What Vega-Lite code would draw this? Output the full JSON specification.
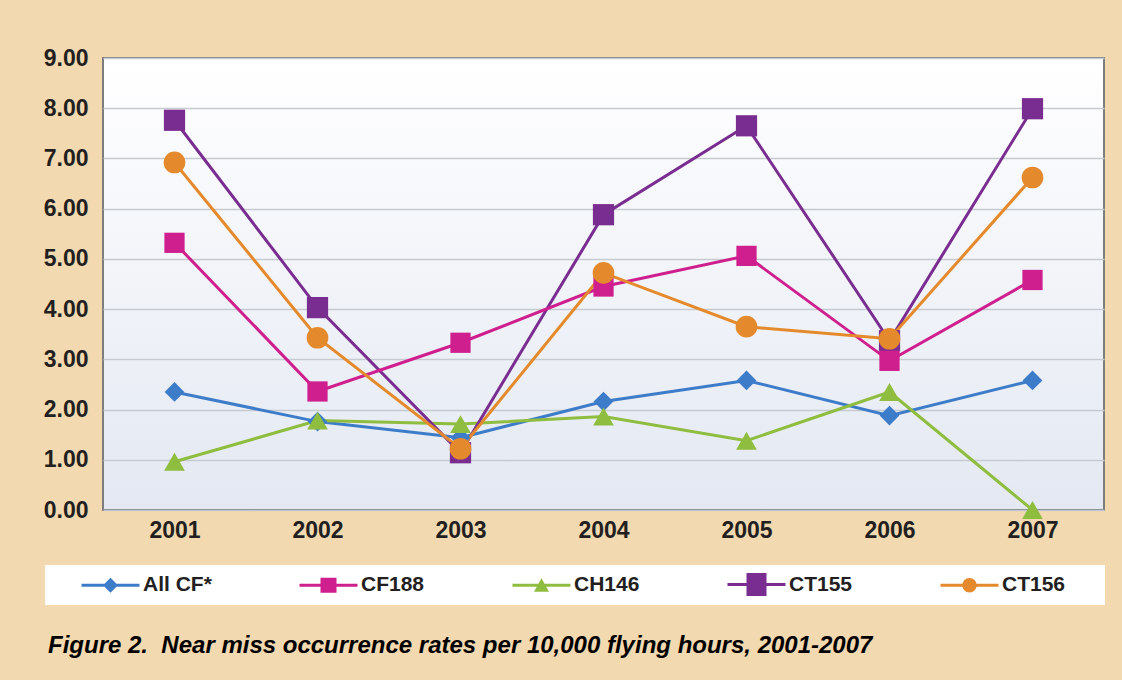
{
  "$schema": "https://vega.github.io/schema/vega-lite/v6.json",
  "width": 1001,
  "height": 452,
  "autosize": "none",
  "padding": {"left": 103, "top": 58, "right": 18, "bottom": 170},
  "background": "#f3d9b0",
  "title": {
    "text": "Figure 2.\u00a0 Near miss occurrence rates per 10,000 flying hours, 2001-2007",
    "orient": "bottom",
    "anchor": "start",
    "frame": "group",
    "dx": -55,
    "offset": 29,
    "font": "Liberation Sans",
    "fontSize": 24,
    "fontStyle": "italic",
    "fontWeight": "bold",
    "color": "#000000"
  },
  "config": {
    "view": {
      "fill": {"gradient": "linear", "x1": 0, "y1": 0, "x2": 0, "y2": 1, "stops": [{"offset": 0, "color": "#ffffff"}, {"offset": 1, "color": "#e3e8f2"}]},
      "stroke": "#7d7d7d",
      "strokeWidth": 2
    },
    "axis": {
      "labelFont": "Liberation Sans",
      "labelFontWeight": "bold",
      "labelFontSize": 23,
      "labelColor": "#231f20",
      "domain": false,
      "ticks": false,
      "title": null
    }
  },
  "data": {
    "values": [
      {"series": "All CF*", "year": "2001", "value": 2.35},
      {"series": "All CF*", "year": "2002", "value": 1.76},
      {"series": "All CF*", "year": "2003", "value": 1.44},
      {"series": "All CF*", "year": "2004", "value": 2.16},
      {"series": "All CF*", "year": "2005", "value": 2.58},
      {"series": "All CF*", "year": "2006", "value": 1.88},
      {"series": "All CF*", "year": "2007", "value": 2.58},
      {"series": "CH146", "year": "2001", "value": 0.96},
      {"series": "CH146", "year": "2002", "value": 1.78},
      {"series": "CH146", "year": "2003", "value": 1.71},
      {"series": "CH146", "year": "2004", "value": 1.86},
      {"series": "CH146", "year": "2005", "value": 1.38},
      {"series": "CH146", "year": "2006", "value": 2.35},
      {"series": "CH146", "year": "2007", "value": 0.0},
      {"series": "CT155", "year": "2001", "value": 7.76},
      {"series": "CT155", "year": "2002", "value": 4.03},
      {"series": "CT155", "year": "2003", "value": 1.14},
      {"series": "CT155", "year": "2004", "value": 5.88},
      {"series": "CT155", "year": "2005", "value": 7.65},
      {"series": "CT155", "year": "2006", "value": 3.37},
      {"series": "CT155", "year": "2007", "value": 7.99},
      {"series": "CF188", "year": "2001", "value": 5.32},
      {"series": "CF188", "year": "2002", "value": 2.36},
      {"series": "CF188", "year": "2003", "value": 3.33},
      {"series": "CF188", "year": "2004", "value": 4.45},
      {"series": "CF188", "year": "2005", "value": 5.06},
      {"series": "CF188", "year": "2006", "value": 2.97},
      {"series": "CF188", "year": "2007", "value": 4.58},
      {"series": "CT156", "year": "2001", "value": 6.92},
      {"series": "CT156", "year": "2002", "value": 3.43},
      {"series": "CT156", "year": "2003", "value": 1.22},
      {"series": "CT156", "year": "2004", "value": 4.72},
      {"series": "CT156", "year": "2005", "value": 3.65},
      {"series": "CT156", "year": "2006", "value": 3.41},
      {"series": "CT156", "year": "2007", "value": 6.62}
    ]
  },
  "encoding": {
    "x": {
      "field": "year",
      "type": "nominal",
      "sort": null,
      "scale": {"type": "point", "padding": 0.5},
      "axis": {"labelAngle": 0, "labelPadding": 9, "grid": false}
    },
    "y": {
      "field": "value",
      "type": "quantitative",
      "scale": {"domain": [0, 9], "nice": false},
      "axis": {"values": [0, 1, 2, 3, 4, 5, 6, 7, 8, 9], "format": ".2f", "labelPadding": 15, "grid": true, "gridColor": "#c6cad1", "gridWidth": 1.5}
    }
  },
  "layer": [
    {
      "mark": {"type": "line", "strokeWidth": 3},
      "encoding": {
        "color": {
          "field": "series",
          "type": "nominal",
          "scale": {"domain": ["All CF*", "CF188", "CH146", "CT155", "CT156"], "range": ["#3d7cc9", "#cf1f8e", "#8fbd3f", "#7a2d91", "#e48a2c"]},
          "legend": null
        },
        "detail": {"field": "series"}
      }
    },
    {
      "mark": {"type": "point", "filled": true, "opacity": 1},
      "encoding": {
        "color": {
          "field": "series",
          "type": "nominal",
          "scale": {"domain": ["All CF*", "CF188", "CH146", "CT155", "CT156"], "range": ["#3d7cc9", "#cf1f8e", "#8fbd3f", "#7a2d91", "#e48a2c"]},
          "legend": null
        },
        "shape": {
          "field": "series",
          "type": "nominal",
          "scale": {"domain": ["All CF*", "CF188", "CH146", "CT155", "CT156"], "range": ["diamond", "square", "triangle-up", "square", "circle"]},
          "legend": null
        },
        "size": {
          "field": "series",
          "type": "nominal",
          "scale": {"domain": ["All CF*", "CF188", "CH146", "CT155", "CT156"], "range": [390, 470, 530, 740, 420]},
          "legend": null
        }
      }
    },
    {
      "transform": [{"filter": "datum.value < -100"}],
      "mark": {"type": "point", "filled": true, "opacity": 1},
      "encoding": {
        "color": {
          "field": "series",
          "type": "nominal",
          "scale": {"domain": ["All CF*", "CF188", "CH146", "CT155", "CT156"], "range": ["#3d7cc9", "#cf1f8e", "#8fbd3f", "#7a2d91", "#e48a2c"]},
          "legend": {
            "orient": "none",
            "legendX": -58,
            "legendY": 507,
            "direction": "horizontal",
            "columns": 5,
            "title": null,
            "fillColor": "#ffffff",
            "padding": 9,
            "symbolSize": 400,
            "symbolOpacity": 1,
            "symbolStrokeWidth": 0,
            "labelOffset": 68,
            "columnPadding": 60,
            "labelFont": "Liberation Sans",
            "labelFontWeight": "bold",
            "labelFontSize": 21,
            "labelColor": "#231f20",
            "labelLimit": 300,
            "labelExpr": "datum.value == 'CT156' ? 'CT156\u2800\u2800' : datum.label"
          }
        },
        "shape": {
          "field": "series",
          "type": "nominal",
          "scale": {"domain": ["All CF*", "CF188", "CH146", "CT155", "CT156"], "range": [
            "M1.7,-0.15 H7.5 V0.15 H1.7 Z M4.6,-0.75 L5.35,0 L4.6,0.75 L3.85,0 Z",
            "M1.7,-0.15 H7.5 V0.15 H1.7 Z M3.8,-0.75 H5.4 V0.75 H3.8 Z",
            "M1.7,-0.15 H7.5 V0.15 H1.7 Z M4.6,-0.7 L5.35,0.65 H3.85 Z",
            "M1.7,-0.15 H7.5 V0.15 H1.7 Z M3.6,-1.15 H5.6 V1.15 H3.6 Z",
            "M1.7,-0.15 H7.5 V0.15 H1.7 Z M3.88,0 A0.72,0.72 0 1,1 5.32,0 A0.72,0.72 0 1,1 3.88,0 Z"
          ]},
          "legend": {
            "orient": "none",
            "legendX": -58,
            "legendY": 507,
            "direction": "horizontal",
            "columns": 5,
            "title": null,
            "fillColor": "#ffffff",
            "padding": 9,
            "symbolSize": 400,
            "symbolOpacity": 1,
            "symbolStrokeWidth": 0,
            "labelOffset": 68,
            "columnPadding": 60,
            "labelFont": "Liberation Sans",
            "labelFontWeight": "bold",
            "labelFontSize": 21,
            "labelColor": "#231f20",
            "labelLimit": 300,
            "labelExpr": "datum.value == 'CT156' ? 'CT156\u2800\u2800' : datum.label"
          }
        }
      }
    }
  ],
  "resolve": {"scale": {"color": "independent", "shape": "independent", "size": "independent"}}
}
